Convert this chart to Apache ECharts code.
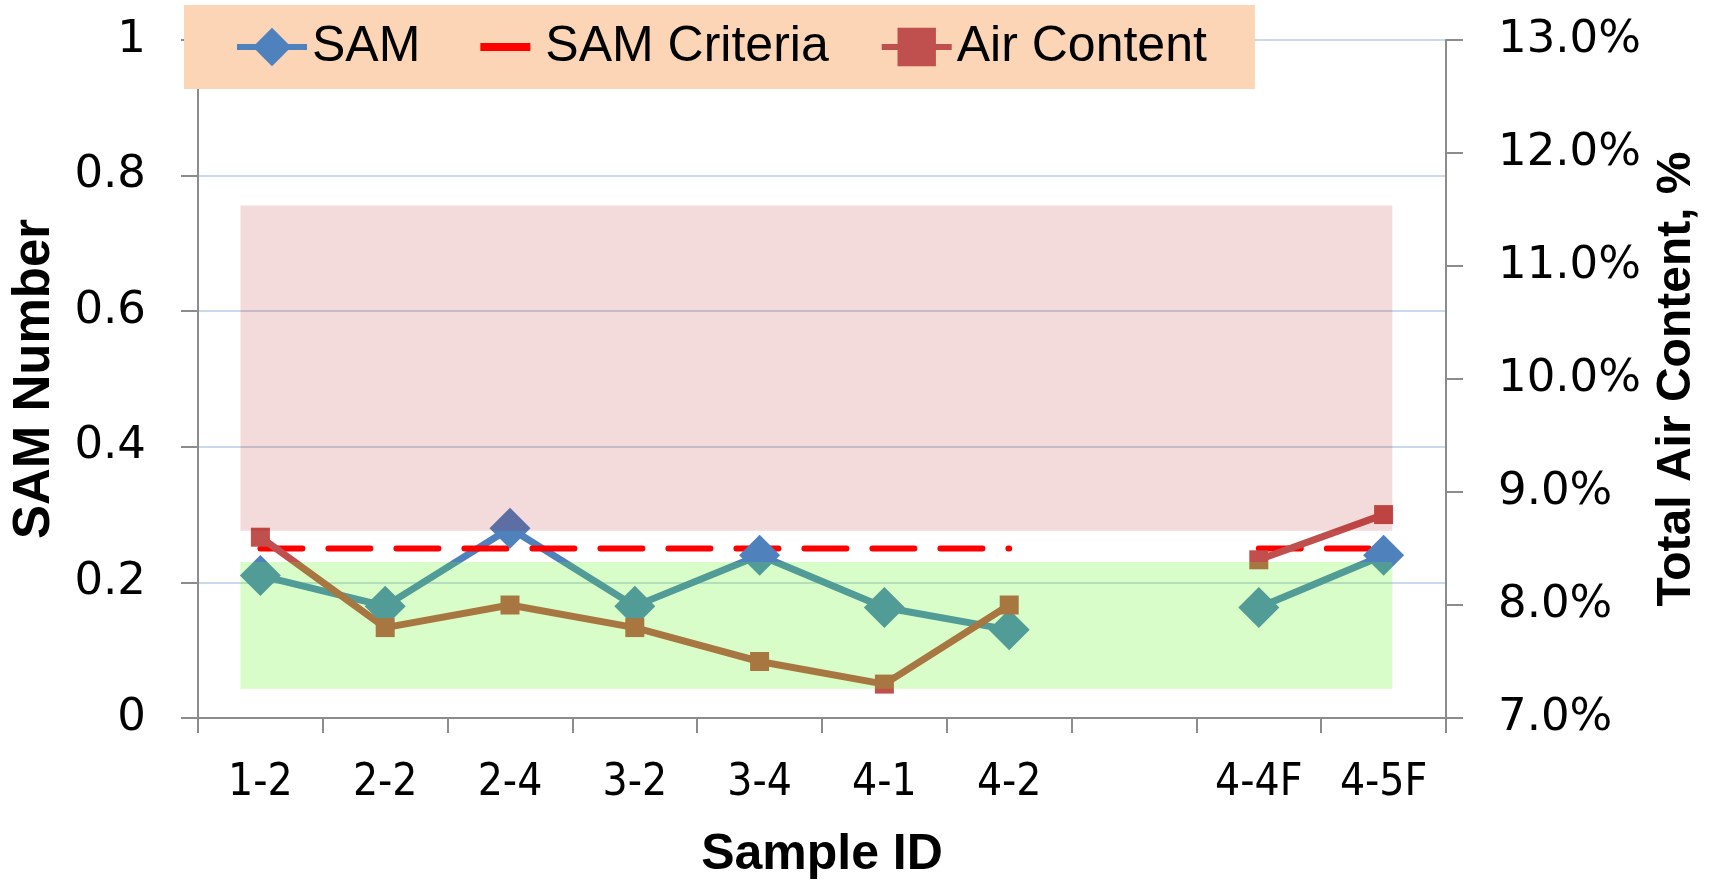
<!DOCTYPE html>
<html>
<head>
<meta charset="utf-8">
<script src="https://cdn.jsdelivr.net/npm/echarts@6/dist/echarts.min.js"></script>
<style>
  html, body { margin: 0; padding: 0; background: #fff; }
  #chart { width: 1713px; height: 885px; }
</style>
</head>
<body>
<div id="chart"></div>
<script>
// sample ids (one empty slot between 4-2 and 4-4F)
const categories = ['1-2', '2-2', '2-4', '3-2', '3-4', '4-1', '4-2', '', '4-4F', '4-5F']
const samValues = [0.21, 0.165, 0.28, 0.165, 0.24, 0.163, 0.13, null, 0.163, 0.24]
const samCriteria = [0.25, 0.25, 0.25, 0.25, 0.25, 0.25, 0.25, null, 0.25, 0.25]
// total air content, %
const airContent = [8.6, 7.8, 8.0, 7.8, 7.5, 7.3, 8.0, null, 8.4, 8.8]
// shaded bands: [x from, x to] in category index, [y from, y to] in SAM number
const redBandX = [-0.16, 9.07]
const redBandY = [0.276, 0.756]
const greenBandX = [-0.16, 9.07]
const greenBandY = [0.043, 0.23]

const tickFont = 'DejaVu Sans'
const textFont = 'Liberation Sans'

let chart = echarts.init(document.getElementById('chart'))

let option = {
    backgroundColor: '#ffffff',
    animation: false,
    grid: {
        left: 198,
        right: 267,
        top: 40,
        bottom: 164
    },
    legend: {
        left: 184,
        top: 5,
        padding: [17, 48, 17, 50],
        backgroundColor: '#FBD5B5',
        itemWidth: 70,
        itemHeight: 48,
        itemGap: 50,
        lineStyle: { width: 6 },
        textStyle: {
            fontFamily: textFont,
            fontSize: 50,
            color: '#000'
        },
        data: [
            { name: 'SAM' },
            { name: 'SAM Criteria', icon: 'path://M0,0M10,20L60,20L60,28L10,28ZM70,48' },
            { name: 'Air Content' }
        ]
    },
    xAxis: [
        {
            type: 'category',
            data: categories,
            boundaryGap: true,
            name: 'Sample ID',
            nameLocation: 'middle',
            nameGap: 112,
            nameTextStyle: {
                fontFamily: textFont,
                fontWeight: 'bold',
                fontSize: 50,
                color: '#000'
            },
            axisLine: { onZero: false, lineStyle: { color: '#8C8C8C', width: 2 } },
            axisTick: { show: true, interval: 0, length: 15, lineStyle: { color: '#8C8C8C', width: 2 } },
            axisLabel: {
                interval: 0,
                margin: 44,
                fontFamily: 'DejaVu Sans Condensed, Roboto',
                fontSize: 44,
                color: '#000'
            }
        },
        {
            type: 'value',
            min: -0.5,
            max: 9.5,
            show: false
        }
    ],
    yAxis: [
        {
            type: 'value',
            min: 0,
            max: 1,
            interval: 0.2,
            name: 'SAM Number',
            nameLocation: 'middle',
            nameGap: 138,
            nameTextStyle: {
                fontFamily: textFont,
                fontWeight: 'bold',
                fontSize: 51,
                color: '#000'
            },
            axisLine: { show: true, onZero: false, lineStyle: { color: '#8C8C8C', width: 2 } },
            axisTick: { show: true, length: 17, lineStyle: { color: '#8C8C8C', width: 2 } },
            splitLine: { lineStyle: { color: '#B9CDE5', width: 1.5 } },
            axisLabel: {
                margin: 52,
                fontFamily: tickFont,
                fontSize: 45,
                color: '#000'
            }
        },
        {
            type: 'value',
            min: 7,
            max: 13,
            interval: 1,
            position: 'right',
            name: 'Total Air Content, %',
            nameLocation: 'middle',
            nameRotate: 90,
            nameGap: 207,
            nameTextStyle: {
                fontFamily: textFont,
                fontWeight: 'bold',
                fontSize: 48,
                color: '#000'
            },
            axisLine: { show: true, onZero: false, lineStyle: { color: '#8C8C8C', width: 2 } },
            axisTick: { show: true, length: 17, lineStyle: { color: '#8C8C8C', width: 2 } },
            splitLine: { show: false },
            axisLabel: {
                margin: 52,
                fontFamily: tickFont,
                fontSize: 45,
                color: '#000',
                formatter: function(v) {
                    return v.toFixed(1) + '%'
                }
            }
        }
    ],
    series: [
        {
            name: 'SAM',
            type: 'line',
            data: samValues,
            yAxisIndex: 0,
            symbol: 'diamond',
            symbolSize: 41,
            itemStyle: { color: '#4F81BD' },
            lineStyle: { color: '#4F81BD', width: 7 }
        },
        {
            name: 'SAM Criteria',
            type: 'line',
            data: samCriteria,
            yAxisIndex: 0,
            symbol: 'none',
            itemStyle: { color: '#FF0000' },
            lineStyle: { color: '#FF0000', width: 6, type: [42, 26], cap: 'round' }
        },
        {
            name: 'Air Content',
            type: 'line',
            data: airContent,
            yAxisIndex: 1,
            symbol: 'rect',
            symbolSize: 19,
            itemStyle: { color: '#C0504D' },
            lineStyle: { color: '#C0504D', width: 7 }
        },
        {
            // translucent bands drawn over the lines
            name: 'bands',
            type: 'line',
            xAxisIndex: 1,
            yAxisIndex: 0,
            data: [],
            z: 10,
            silent: true,
            markArea: {
                silent: true,
                z: 10,
                data: [
                    [
                        { xAxis: redBandX[0], yAxis: redBandY[0], itemStyle: { color: 'rgba(176,0,0,0.14)' } },
                        { xAxis: redBandX[1], yAxis: redBandY[1] }
                    ],
                    [
                        { xAxis: greenBandX[0], yAxis: greenBandY[0], itemStyle: { color: 'rgba(92,246,21,0.23)' } },
                        { xAxis: greenBandX[1], yAxis: greenBandY[1] }
                    ]
                ]
            }
        }
    ]
}

chart.setOption(option)
</script>
</body>
</html>
